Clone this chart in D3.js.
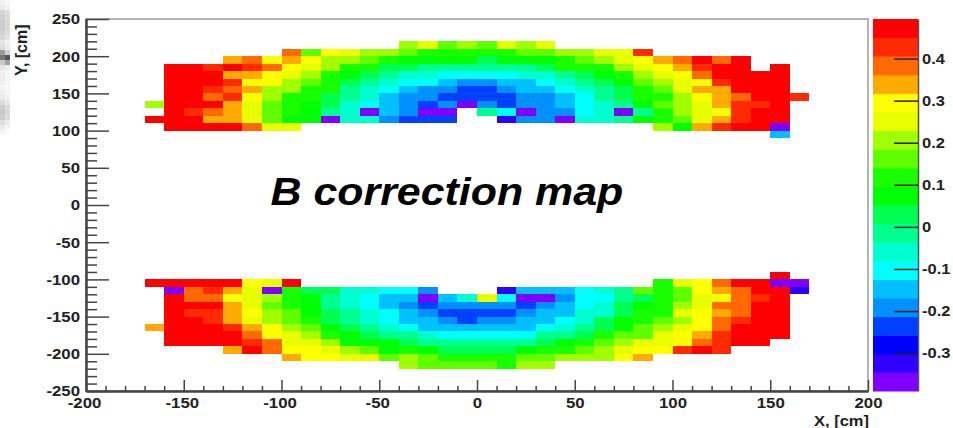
<!DOCTYPE html>
<html lang="en">

<head>
    <meta charset="UTF-8">
    <script src="https://d3js.org/d3.v7.min.js"></script>
    <style>
        html, body { margin: 0; padding: 0; background: #fff; }
        svg { display: block; }
        text { font-family: "Liberation Sans", Arial, sans-serif; font-weight: bold; fill: #222; }
    </style>
</head>

<body>
    <div class="map"></div>
    <script>
        // bins are 10 cm x 10 cm, rowY is the lower edge, rowX0 the first filled x bin
        const rowY = [210, 200, 190, 180, 170, 160, 150, 140, 130, 120, 110, 100, 100, 90,
            -100, -110, -110, -120, -120, -130, -140, -150, -160, -170, -180, -190, -200, -210, -220]
        const rowX0 = [-40, -100, -130, -160, -160, -160, -160, -160, -170, -160, -170, -160, 90, 150,
            150, -170, 90, -160, 10, -160, -160, -160, -160, -170, -160, -160, -130, -100, -40]
        const rowValues = [
            [.21, .25, .16, .21, .16, .25, .21, .25],
            [.38, .16, .29, .25, .21, .21, .16, .12, .12, .12, .12, .12, .16, .16, .21, .21, .25, .25, .43],
            [.34, .38, .29, .34, .29, .21, .21, .16, .12, .07, .07, .07, .07, .03, .07, .07, .07, .12, .16, .21, .25, .29, .34, .38, .47, .38, .47],
            [.47, .47, .43, .47, .43, .38, .29, .25, .21, .12, .12, .03, .03, -.02, -.02, -.02, -.02, -.02, -.02, .03, .12, .12, .12, .21, .25, .29, .34, .43, .47, .47, null, .47],
            [.47, .47, .47, .34, .34, .29, .25, .21, .12, .07, .03, -.02, -.06, -.06, -.10, -.10, -.10, -.10, -.06, -.06, -.02, .03, .07, .12, .21, .25, .29, .38, .47, .47, .47, .47],
            [.47, .47, .47, .43, .29, .29, .21, .16, .12, .03, -.02, -.06, -.10, -.10, -.15, -.19, -.19, -.15, -.15, -.10, -.06, -.02, .03, .07, .16, .21, .25, .29, .43, .47, .47, .47],
            [.47, .47, .43, .38, .34, .21, .21, .12, .12, -.02, -.06, -.10, -.15, -.19, -.19, -.24, -.24, -.19, -.15, -.15, -.10, -.06, -.02, .03, .12, .16, .25, .34, .34, .47, .47, .47],
            [.47, .47, .38, .43, .29, .21, .12, .12, .03, -.02, -.06, -.15, -.19, -.19, -.24, -.24, -.24, -.24, -.19, -.19, -.15, -.10, -.02, .03, .12, .12, .21, .29, .34, .38, .47, .47, .43],
            [.21, .47, .47, .47, .34, .25, .16, .12, .07, .03, -.06, -.10, -.15, -.19, -.24, -.19, -.37, -.19, -.24, -.19, -.19, -.15, -.10, -.06, -.02, .07, .16, .21, .25, .34, .43, .43, .47],
            [.47, .43, .38, .34, .25, .16, .12, .07, -.02, -.06, -.37, -.15, -.19, -.37, -.37, null, -.02, -.10, -.37, -.19, -.19, -.10, -.06, -.37, -.02, .12, .21, .25, .29, .43, .47, .47],
            [.47, .47, .47, .34, .34, .25, .16, .07, .07, -.37, -.06, -.06, -.19, -.24, -.24, -.24, null, null, -.32, -.19, -.19, -.37, -.06, -.06, -.02, .07, .12, .16, .25, .34, .43, .47, .47],
            [.47, .47, .47, .47, .38, .25, .25],
            [.21, .07, .34, .43, .47, .47, -.37],
            [-.15],
            [.47],
            [.47, .47, .47, .47, .47, .29, .25, .47],
            [.12, .25, .29, .38, .47, .47, -.37, -.37],
            [-.37, .38, .43, .34, .25, -.37, .12, .03, .03, -.06, -.06, -.10, -.10, -.19],
            [-.32, -.15, -.15, -.15, -.10, -.06, -.02, .16, .12, .16, .29, .34, .38, .47, .47, -.32],
            [.47, .38, .38, .29, .25, .21, .12, .07, -.02, -.06, -.10, -.15, -.15, -.37, -.15, -.06, .25, -.10, -.37, -.37, -.19, -.10, -.10, -.02, .03, .12, .16, .25, .29, .38, .43, .47],
            [.47, .47, .47, .34, .25, .16, .12, .07, -.02, -.06, -.10, -.15, -.19, -.24, -.19, -.19, -.19, -.19, -.24, -.19, -.15, -.10, -.06, .03, .07, .12, .21, .25, .38, .38, .47, .47],
            [.47, .43, .43, .34, .29, .21, .16, .07, .03, -.02, -.06, -.10, -.15, -.19, -.24, -.24, -.24, -.24, -.19, -.15, -.15, -.06, -.06, .03, .12, .12, .25, .29, .34, .38, .47, .47],
            [.47, .47, .43, .34, .25, .21, .16, .12, .03, -.02, -.06, -.10, -.15, -.15, -.19, -.24, -.19, -.19, -.15, -.15, -.10, -.06, .03, .07, .12, .16, .21, .29, .38, .43, .47, .47],
            [.34, .47, .47, .47, .43, .34, .29, .21, .16, .07, .03, -.02, -.06, -.10, -.15, -.15, -.15, -.15, -.15, -.15, -.10, -.06, -.02, .03, .07, .16, .21, .25, .29, .38, .47, .47, .47],
            [.47, .47, .47, .47, .38, .29, .25, .21, .12, .07, .03, -.02, -.02, -.06, -.10, -.10, -.10, -.10, -.10, -.02, -.02, .03, .12, .16, .16, .25, .29, .34, .43, .47, .47, .47],
            [.47, .47, .47, .47, .43, .38, .25, .25, .21, .07, .07, .07, .03, -.02, -.02, -.02, -.02, -.02, -.02, .03, .07, .12, .16, .21, .25, .25, .29, .38, .43, .47, .47],
            [.34, .47, .38, .29, .29, .25, .21, .16, .07, .12, .07, .03, .03, .03, .03, .07, .12, .12, .16, .21, .25, .29, .29, .43, .47, .43],
            [.34, .29, .29, .25, .25, .16, .21, .16, .12, .12, .12, .12, .16, .16, .21, .21, .21, .29, .34],
            [.21, .16, .16, .16, .16, .12, .21, .21]
        ]

        // colour levels of the palette, bottom to top
        const levelColors = ["#8000ff", "#3000ff", "#0000ff", "#0040ff", "#0090ff", "#00c0ff", "#00ffff", "#00ffd0", "#00ff90", "#00ff50",
            "#00ff00", "#18ff00", "#60ff00", "#a0ff00", "#e8ff00", "#ffff00", "#ffaa00", "#ff6a00", "#ff2a00", "#ff0000"]
        const zMin = -0.39
        const zMax = 0.494
        const zTicks = [0.4, 0.3, 0.2, 0.1, 0, -0.1, -0.2, -0.3]
        const xMajor = [-200, -150, -100, -50, 0, 50, 100, 150, 200]
        const yMajor = [250, 200, 150, 100, 50, 0, -50, -100, -150, -200, -250]

        // the scan residue down the left edge of the page, 5 px steps, two columns
        const edgeLeft = ["#f2f2f2", "#ececec", "#d6d6d6", "#cfcfcf", "#cccccc", "#cdcdcd", "#d2d2d2", "#d8d8d8", "#e6e6e6", "#dedede", "#9a9a9a", "#777777", "#c8c8c8", "#e4e4e4", "#f0f0f0", "#ececec", "#eeeeee", "#f4f4f4", "#f0f0f0", "#eaeaea", "#dddddd", "#cccccc", "#c8c8c8", "#cccccc", "#e0e0e0", "#ececec", "#f4f4f4"]
        const edgeRight = ["#f8f8f8", "#f2f2f2", "#e0e0e0", "#dcdcdc", "#d8d8d8", "#dadada", "#dedede", "#e4e4e4", "#f0f0f0", "#ececec", "#d0d0d0", "#555555", "#a0a0a0", "#ececec", "#f6f6f6", "#f4f4f4", "#f6f6f6", "#f8f8f8", "#f6f6f6", "#f2f2f2", "#e8e8e8", "#dcdcdc", "#d8d8d8", "#dcdcdc", "#ececec", "#f4f4f4", "#fafafa"]

        let width = 953
        let height = 428
        let margin = { top: 19, right: 85, bottom: 37, left: 86 }
        let plotW = width - margin.left - margin.right
        let plotH = height - margin.top - margin.bottom

        // keeps the plain hyphen the reference prints on negative ticks
        var plainFormat = function (d) { return String(d) }

        // the reference picture is stretched sideways, so its letters are wider than the font
        function widen(sel, k) {
            sel.each(function () {
                d3.select(this)
                    .attr("lengthAdjust", "spacingAndGlyphs")
                    .attr("textLength", this.getComputedTextLength() * k)
            })
        }

        var svg = d3.select(".map").append("svg")
            .attr("width", width)
            .attr("height", height)

        var xScale = d3.scaleLinear().domain([-200, 200]).range([margin.left, margin.left + plotW])
        var yScale = d3.scaleLinear().domain([-250, 250]).range([margin.top + plotH, margin.top])
        var zScale = d3.scaleLinear().domain([zMin, zMax]).range([margin.top + plotH, margin.top])
        var colors = d3.scaleQuantize().domain([zMin, zMax]).range(levelColors)

        // edge residue
        ;[edgeLeft, edgeRight].forEach(function (column, c) {
            svg.append("g").selectAll("rect")
                .data(column)
                .enter().append("rect")
                .attr("x", c * 5)
                .attr("y", function (d, i) { return i * 5 })
                .attr("width", 5)
                .attr("height", 5)
                .style("fill", function (d) { return d })
        })

        // flatten the rows into cells
        var cells = []
        rowValues.forEach(function (values, r) {
            values.forEach(function (v, i) {
                if (v !== null) cells.push({ x: rowX0[r] + i * 10, y: rowY[r], v: v })
            })
        })

        svg.selectAll("rect.cell")
            .data(cells)
            .enter().append("rect")
            .attr("class", "cell")
            .attr("x", function (d) { return xScale(d.x) })
            .attr("y", function (d) { return yScale(d.y + 10) })
            .attr("width", function (d) { return xScale(d.x + 10) - xScale(d.x) })
            .attr("height", function (d) { return yScale(d.y) - yScale(d.y + 10) })
            .style("fill", function (d) { return colors(d.v) })
            .attr("shape-rendering", "crispEdges")

        // frame
        svg.append("rect")
            .attr("x", margin.left)
            .attr("y", margin.top)
            .attr("width", plotW)
            .attr("height", plotH)
            .style("fill", "none")
            .style("stroke", "#9a9a9a")
            .style("stroke-width", 1.5)

        function styleAxis(g) {
            g.select(".domain").style("stroke", "#444").style("stroke-width", 2)
            g.selectAll(".tick line").style("stroke", "#444").style("stroke-width", 1.5)
            g.selectAll("text").style("font-size", "15px")
        }

        // bottom axis, ticks point into the plot
        var xMinor = d3.range(-190, 200, 10).filter(function (d) { return d % 50 !== 0 })
        svg.append("g")
            .attr("transform", "translate(0," + (margin.top + plotH) + ")")
            .call(d3.axisBottom(xScale).tickValues(xMinor).tickSize(-5).tickSizeOuter(0).tickFormat(""))
            .call(styleAxis)
        svg.append("g")
            .attr("transform", "translate(0," + (margin.top + plotH) + ")")
            .call(d3.axisBottom(xScale).tickValues(xMajor).tickSize(-11).tickSizeOuter(0).tickFormat(plainFormat))
            .call(styleAxis)
            .call(function (g) {
                g.selectAll("text").attr("y", 6).attr("dy", "0.71em")
                    .attr("dx", function (d) { return d < 0 ? -2 : 0 })
                    .call(widen, 1.12)
            })

        // left axis
        var yMinor = d3.range(-240, 250, 10).filter(function (d) { return d % 50 !== 0 })
        svg.append("g")
            .attr("transform", "translate(" + margin.left + ",0)")
            .call(d3.axisLeft(yScale).tickValues(yMinor).tickSize(-11).tickSizeOuter(0).tickFormat(""))
            .call(styleAxis)
        svg.append("g")
            .attr("transform", "translate(" + margin.left + ",0)")
            .call(d3.axisLeft(yScale).tickValues(yMajor).tickSize(-23).tickSizeOuter(0).tickFormat(plainFormat))
            .call(styleAxis)
            .call(function (g) { g.selectAll("text").attr("x", -6).call(widen, 1.12) })

        // palette
        var barX = 873
        var barW = 45
        svg.selectAll("rect.level")
            .data(levelColors)
            .enter().append("rect")
            .attr("class", "level")
            .attr("x", barX)
            .attr("y", function (d, i) { return zScale(zMin + (i + 1) * (zMax - zMin) / levelColors.length) })
            .attr("width", barW)
            .attr("height", plotH / levelColors.length + 0.5)
            .style("fill", function (d) { return d })

        svg.append("g")
            .attr("transform", "translate(" + (barX + barW) + ",0)")
            .call(d3.axisRight(zScale).tickValues(zTicks).tickSize(0).tickSizeOuter(0).tickFormat(plainFormat))
            .call(styleAxis)
            .call(function (g) {
                g.selectAll(".tick line").attr("x1", -24).attr("x2", 0).style("stroke", "#222")
                g.selectAll("text").attr("x", 4).call(widen, 1.1)
                g.select(".domain").style("stroke", "#555").style("stroke-width", 1.5)
            })

        // labels
        svg.append("text")
            .attr("x", margin.left + plotW + 1)
            .attr("y", 426)
            .attr("text-anchor", "end")
            .style("font-size", "15px")
            .text("X, [cm]")
            .call(widen, 1.1)

        svg.append("text")
            .attr("transform", "translate(27,76) rotate(-90)")
            .style("font-size", "16px")
            .text("Y, [cm]")

        svg.append("text")
            .attr("x", 270.5)
            .attr("y", 205)
            .style("font-size", "39px")
            .style("font-style", "italic")
            .style("fill", "#000")
            .text("B correction map")
            .call(widen, 1.1)
    </script>
</body>

</html>
